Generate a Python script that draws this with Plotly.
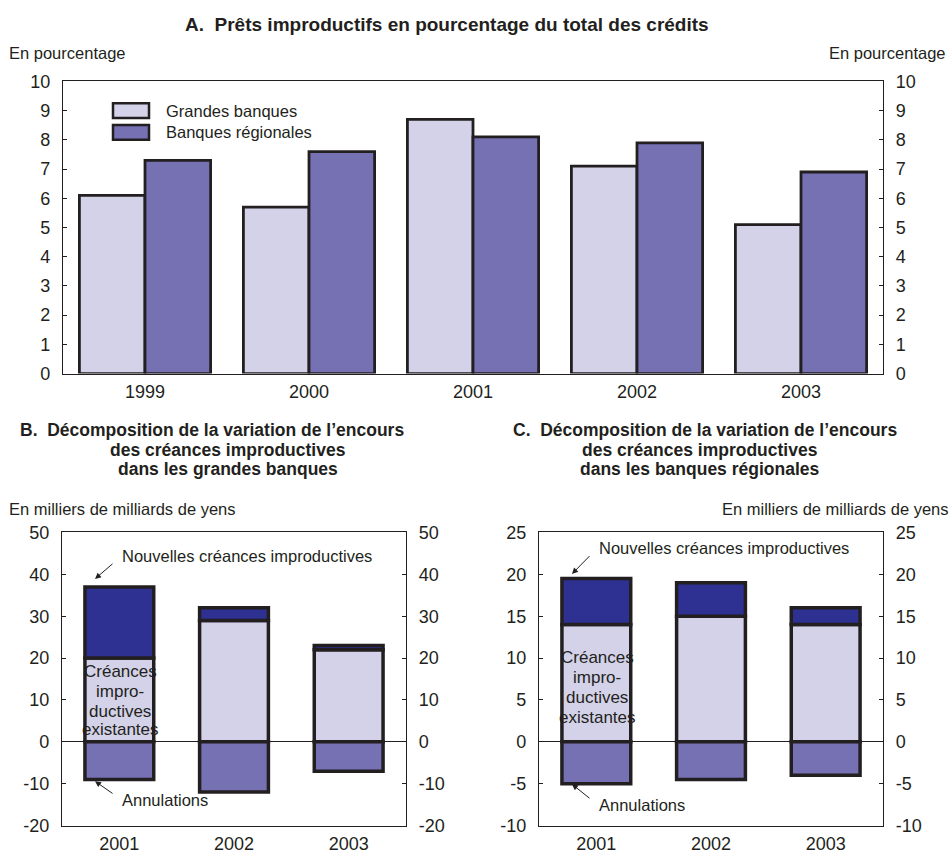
import plotly.graph_objects as go

# ---- Data -------------------------------------------------------------
years_a = ["1999", "2000", "2001", "2002", "2003"]
grandes = [6.1, 5.7, 8.7, 7.1, 5.1]
regionales = [7.3, 7.6, 8.1, 7.9, 6.9]

years_bc = ["2001", "2002", "2003"]
# Panel B: grandes banques (milliers de milliards de yens)
b_existantes = [20, 29, 22]
b_nouvelles = [17, 3, 1]
b_annulations = [-9, -12, -7]
# Panel C: banques régionales
c_existantes = [14, 15, 14]
c_nouvelles = [5.5, 4, 2]
c_annulations = [-5, -4.5, -4]

# y-axis tick values
ticks_a = list(range(0, 11, 1))
ticks_b = list(range(-20, 51, 10))
ticks_c = list(range(-10, 26, 5))

# ---- Style ------------------------------------------------------------
W, H = 952, 854
FONT = "Liberation Sans, Arial, sans-serif"
INK = "#231f20"
LIGHT = "#d3d2e8"
MID = "#7571b3"
DARK = "#2e3192"
EDGE = dict(color=INK, width=3.5)


def xp(px):
    return px / W


def yp(py):
    return 1 - ((py - 6.6) / 0.98) / H


fig = go.Figure()

# Panel A: two side-by-side bars per year
fig.add_trace(go.Bar(x=years_a, y=grandes, name="Grandes banques",
                     marker=dict(color=LIGHT, line=dict(color=INK, width=2.8)),
                     width=0.4, offset=-0.4, xaxis="x", yaxis="y", showlegend=False))
fig.add_trace(go.Bar(x=years_a, y=regionales, name="Banques régionales",
                     marker=dict(color=MID, line=dict(color=INK, width=2.8)),
                     width=0.4, offset=0.0, xaxis="x", yaxis="y", showlegend=False))


def add_decomposition(existantes, nouvelles, annulations, xa, ya):
    fig.add_trace(go.Bar(x=years_bc, y=existantes, name="Créances improductives existantes",
                         marker=dict(color=LIGHT, line=EDGE), width=0.6, offset=-0.3,
                         xaxis=xa, yaxis=ya, showlegend=False))
    fig.add_trace(go.Bar(x=years_bc, y=nouvelles, base=existantes,
                         name="Nouvelles créances improductives",
                         marker=dict(color=DARK, line=EDGE), width=0.6, offset=-0.3,
                         xaxis=xa, yaxis=ya, showlegend=False))
    fig.add_trace(go.Bar(x=years_bc, y=annulations, name="Annulations",
                         marker=dict(color=MID, line=EDGE), width=0.6, offset=-0.3,
                         xaxis=xa, yaxis=ya, showlegend=False))


add_decomposition(b_existantes, b_nouvelles, b_annulations, "x2", "y2")
add_decomposition(c_existantes, c_nouvelles, c_annulations, "x3", "y3")

# invisible traces carrying the right-hand axes
for xa, ya, cats in [("x", "y4", years_a), ("x2", "y5", years_bc), ("x3", "y6", years_bc)]:
    fig.add_trace(go.Scatter(x=[cats[0]], y=[0], mode="markers", marker=dict(opacity=0),
                             xaxis=xa, yaxis=ya, showlegend=False, hoverinfo="skip"))

TICK_SIZE = 18
LABEL_SIZE = 17
tickfont = dict(family=FONT, size=TICK_SIZE, color=INK)


def xaxis(dom, anchor):
    return dict(domain=dom, anchor=anchor, showline=True, mirror=True, linecolor=INK,
                linewidth=1.2, ticks="", showgrid=False, tickfont=tickfont,
                ticklabelstandoff=2, fixedrange=True)


def yticks(vals):
    return dict(tickmode="array", tickvals=vals, ticktext=[str(v) for v in vals])


def yaxis(dom, anchor, rng, vals, zeroline=False):
    return dict(domain=dom, anchor=anchor, range=rng, showline=True,
                linecolor=INK, linewidth=1.2, ticks="inside", ticklen=4, tickcolor=INK,
                showgrid=False, zeroline=zeroline, zerolinecolor=INK, zerolinewidth=1,
                tickfont=tickfont, ticklabelstandoff=8, fixedrange=True, **yticks(vals))


def yaxis_right(overlay, anchor, rng, vals):
    return dict(overlaying=overlay, anchor=anchor, side="right", range=rng,
                showline=True, linecolor=INK, linewidth=1.2, ticks="inside", ticklen=4,
                tickcolor=INK, showgrid=False, zeroline=False, tickfont=tickfont,
                ticklabelstandoff=8, fixedrange=True, **yticks(vals))


dom_ax = [xp(63), xp(883)]
dom_ay = [yp(375), yp(79)]
dom_bx = [xp(62), xp(406)]
dom_cx = [xp(539), xp(883)]
dom_bcy = [yp(833), yp(536)]

fig.update_layout(
    width=W, height=H, margin=dict(l=0, r=0, t=0, b=0),
    paper_bgcolor="white", plot_bgcolor="white",
    barmode="overlay",
    font=dict(family=FONT, color=INK),
    xaxis=xaxis(dom_ax, "y"),
    yaxis=yaxis(dom_ay, "x", [0, 10], ticks_a),
    yaxis4=yaxis_right("y", "x", [0, 10], ticks_a),
    xaxis2=xaxis(dom_bx, "y2"),
    yaxis2=yaxis(dom_bcy, "x2", [-20, 50], ticks_b, zeroline=True),
    yaxis5=yaxis_right("y2", "x2", [-20, 50], ticks_b),
    xaxis3=xaxis(dom_cx, "y3"),
    yaxis3=yaxis(dom_bcy, "x3", [-10, 25], ticks_c, zeroline=True),
    yaxis6=yaxis_right("y3", "x3", [-10, 25], ticks_c),
)

ann = []
shapes = []


def text(x, y, s, size=LABEL_SIZE, bold=False, xanchor="left", yanchor="middle"):
    ann.append(dict(x=xp(x), y=yp(y), xref="paper", yref="paper",
                    text=f"<b>{s}</b>" if bold else s,
                    showarrow=False, xanchor=xanchor, yanchor=yanchor,
                    font=dict(family=FONT, size=size, color=INK)))


# titles
text(447, 21, "A.  Prêts improductifs en pourcentage du total des crédits", 19, True, "center")
text(212, 432, "B.  Décomposition de la variation de l’encours", 17.5, True, "center")
text(228, 452, "des créances improductives", 17.5, True, "center")
text(228, 472, "dans les grandes banques", 17.5, True, "center")
text(705, 432, "C.  Décomposition de la variation de l’encours", 17.5, True, "center")
text(700, 452, "des créances improductives", 17.5, True, "center")
text(700, 472, "dans les banques régionales", 17.5, True, "center")

# unit labels
text(7, 50, "En pourcentage", LABEL_SIZE - 0.5)
text(948, 50, "En pourcentage", LABEL_SIZE - 0.5, xanchor="right")
text(7, 512, "En milliers de milliards de yens", LABEL_SIZE - 0.5)
text(951, 512, "En milliers de milliards de yens", LABEL_SIZE - 0.5, xanchor="right")

# legend of panel A
for (y0, y1, col, lab) in [(101, 116, LIGHT, "Grandes banques"), (123, 138, MID, "Banques régionales")]:
    shapes.append(dict(type="rect", xref="paper", yref="paper", x0=xp(113), x1=xp(149),
                       y0=yp(y1), y1=yp(y0), fillcolor=col, line=dict(color=INK, width=2.5)))
    text(164, (y0 + y1) / 2, lab, LABEL_SIZE - 0.5)

# labels inside panels B and C
for (tx, ty, tipx, tipy, lab) in [
    (120, 560, 95, 583, "Nouvelles créances improductives"),
    (120, 807, 95, 788, "Annulations"),
    (597, 552, 572, 578, "Nouvelles créances improductives"),
    (597, 812, 572, 791, "Annulations"),
]:
    text(tx, ty, lab, LABEL_SIZE - 0.5)
    top = tipy > ty
    tailx, taily = tx - 6, (ty + 7 if top else ty - 6)
    ann.append(dict(x=xp(tipx), y=yp(tipy), ax=tailx - tipx, ay=(taily - tipy) / 0.98,
                    xref="paper", yref="paper", axref="pixel", ayref="pixel", text="",
                    showarrow=True, arrowhead=2, arrowsize=1.2, arrowwidth=1, arrowcolor=INK))

for cx, ys in [(120, [677, 697, 717, 736]), (597, [663, 683, 703, 723])]:
    for yy, s in zip(ys, ["Créances", "impro-", "ductives", "existantes"]):
        text(cx, yy, s, LABEL_SIZE, xanchor="center")

fig.update_layout(annotations=ann, shapes=shapes)
fig.write_html("out.html")
